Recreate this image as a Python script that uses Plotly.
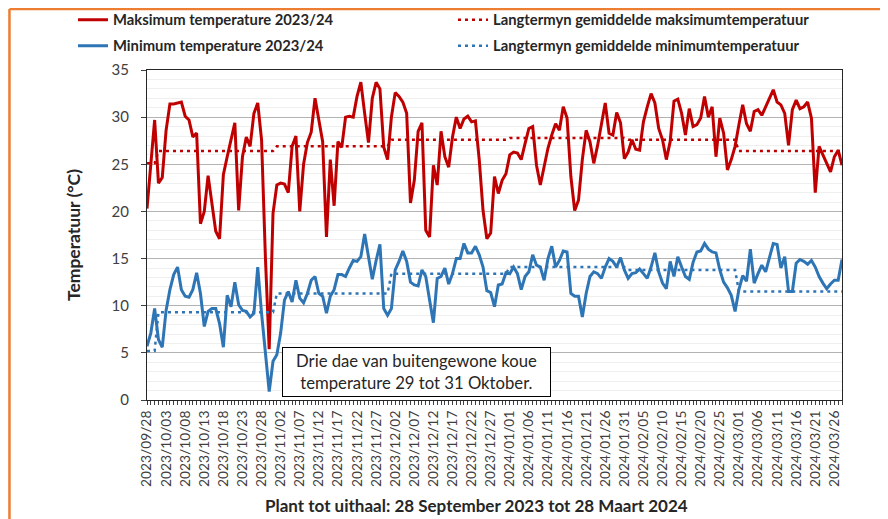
import pandas as pd
import plotly.graph_objects as go

# daily dates, 28 Sep 2023 - 28 Mar 2024
dates = pd.date_range("2023-09-28", "2024-03-28", freq="D")

max_temp = [
    20.3, 25.5, 29.7, 23.0, 23.6, 28.6, 31.4, 31.4, 31.5, 31.6,
    30.1, 29.7, 27.9, 28.3, 18.7, 20.0, 23.8, 20.9, 17.9, 17.1,
    23.9, 25.8, 27.6, 29.4, 20.1, 25.8, 27.9, 26.9, 30.4, 31.5,
    27.6, 15.2, 5.4, 19.8, 22.8, 23.0, 22.9, 22.0, 26.9, 28.0,
    20.0, 25.0, 27.3, 28.4, 32.0, 29.9, 27.4, 17.3, 25.5, 20.6,
    27.4, 26.8, 30.0, 30.1, 30.0, 32.2, 33.7, 30.4, 27.3, 32.0,
    33.7, 33.0, 26.8, 25.5, 30.0, 32.6, 32.2, 31.6, 30.4, 20.9,
    23.3, 28.5, 29.4, 18.0, 17.3, 24.9, 22.8, 28.5, 25.8, 24.7,
    27.9, 30.0, 28.8, 29.8, 30.1, 29.5, 29.6, 25.5, 20.1, 17.1,
    17.7, 23.7, 21.9, 23.3, 24.0, 26.0, 26.3, 26.2, 25.5, 27.2,
    28.8, 29.0, 24.9, 22.8, 24.7, 26.7, 28.1, 29.3, 28.6, 31.1,
    29.9, 23.7, 20.1, 21.2, 25.5, 28.6, 27.4, 25.1, 27.0, 29.3,
    31.5, 28.3, 28.1, 30.5, 29.4, 25.6, 26.3, 27.6, 26.6, 26.5,
    29.5, 31.1, 32.5, 31.5, 28.8, 27.6, 25.5, 27.4, 31.7, 31.9,
    30.4, 28.1, 30.9, 29.0, 29.2, 29.9, 32.2, 30.0, 31.1, 25.8,
    29.9, 28.3, 24.4, 25.5, 26.9, 29.2, 31.3, 29.3, 28.5, 30.6,
    30.8, 30.2, 31.1, 32.0, 32.9, 31.6, 31.3, 30.4, 27.0, 30.8,
    31.8, 30.9, 31.1, 31.6, 29.9, 22.0, 26.9, 26.0, 25.1, 24.2,
    25.8, 26.5, 24.9,
]

min_temp = [
    5.7, 7.1, 9.7, 6.4, 5.6, 9.5, 11.7, 13.3, 14.1, 11.7,
    11.0, 10.9, 11.7, 13.5, 11.3, 7.8, 9.4, 9.7, 9.7, 8.1,
    5.6, 11.1, 9.9, 12.5, 10.1, 9.5, 9.4, 8.8, 9.2, 14.1,
    9.2, 4.6, 0.9, 4.1, 4.8, 7.1, 10.6, 11.5, 10.4, 12.7,
    10.8, 10.3, 11.3, 12.7, 13.1, 11.3, 11.0, 9.2, 11.0, 11.7,
    13.3, 13.3, 13.1, 14.0, 14.8, 14.7, 15.2, 17.6, 15.2, 12.8,
    14.8, 16.5, 9.7, 9.0, 9.7, 13.8, 14.7, 15.8, 14.7, 12.5,
    12.2, 12.1, 13.8, 13.1, 10.6, 8.2, 12.9, 13.1, 14.0, 12.3,
    13.4, 15.0, 15.0, 16.6, 15.6, 15.6, 16.3, 15.4, 14.1, 11.6,
    11.4, 9.9, 12.2, 12.3, 13.5, 13.4, 14.1, 13.4, 11.7, 13.1,
    13.6, 15.4, 14.3, 14.1, 12.7, 15.0, 16.3, 14.1, 14.8, 15.8,
    15.7, 11.3, 11.0, 11.0, 8.8, 11.3, 13.1, 13.6, 13.4, 12.9,
    14.1, 15.0, 14.7, 14.1, 15.1, 13.8, 12.9, 13.4, 13.5, 13.9,
    13.4, 12.9, 14.1, 15.6, 13.6, 12.4, 11.8, 14.7, 13.1, 15.2,
    14.1, 13.1, 12.8, 14.6, 15.7, 15.8, 16.6, 16.0, 15.7, 15.6,
    13.8, 12.5, 11.9, 11.1, 9.4, 11.7, 13.2, 12.6, 16.0, 12.4,
    13.4, 14.3, 13.6, 15.2, 16.6, 16.5, 14.0, 15.2, 11.5, 11.5,
    14.5, 14.9, 14.7, 14.4, 14.8, 14.1, 13.1, 12.4, 11.8, 12.3,
    12.7, 12.7, 14.9,
]

# long-term monthly means (Sep..Mar)
lt_months = [9, 10, 11, 12, 1, 2, 3]
lt_max = [25.1, 26.4, 26.9, 27.6, 27.8, 27.6, 26.4]
lt_min = [5.2, 9.3, 11.3, 13.4, 14.1, 13.8, 11.5]

lt_max_daily = [dict(zip(lt_months, lt_max))[d.month] for d in dates]
lt_min_daily = [dict(zip(lt_months, lt_min))[d.month] for d in dates]

RED = "#C00000"
BLUE = "#2E75B6"
FONT = "Lato"

fig = go.Figure()
fig.add_trace(go.Scatter(x=dates, y=max_temp, mode="lines", name="<b>Maksimum temperature 2023/24</b>",
                         line=dict(color=RED, width=3), legend="legend"))
fig.add_trace(go.Scatter(x=dates, y=lt_max_daily, mode="lines",
                         name="<b>Langtermyn gemiddelde maksimumtemperatuur</b>",
                         line=dict(color=RED, width=2.5, dash="3px,4px"), legend="legend"))
fig.add_trace(go.Scatter(x=dates, y=min_temp, mode="lines", name="<b>Minimum temperature 2023/24</b>",
                         line=dict(color=BLUE, width=3), legend="legend2"))
fig.add_trace(go.Scatter(x=dates, y=lt_min_daily, mode="lines",
                         name="<b>Langtermyn gemiddelde minimumtemperatuur</b>",
                         line=dict(color=BLUE, width=2.5, dash="3px,4px"), legend="legend2"))

leg = dict(orientation="h", x=-0.1065, xanchor="left", yanchor="middle",
           entrywidth=335, entrywidthmode="pixels", bgcolor="rgba(0,0,0,0)",
           font=dict(family=FONT, size=14.8, color="#262626"))

# the page body adds an 8px offset, so the figure is 8px smaller than the window
fig.update_layout(
    width=880, height=511,
    margin=dict(l=139, r=46, t=62, b=119, autoexpand=False),
    paper_bgcolor="white", plot_bgcolor="white",
    font=dict(family=FONT, color="#404040"),
    legend=dict(leg, y=1.1515),
    legend2=dict(leg, y=1.0727),
    xaxis=dict(
        type="date",
        range=["2023-09-28", "2024-03-28"],
        tick0="2023-09-28", dtick=5 * 86400000,
        tickformat="%Y/%m/%d", tickangle=-90,
        tickfont=dict(family=FONT, size=13.8, color="#404040"),
        ticks="outside", ticklen=4, tickcolor="#404040",
        minor=dict(dtick=86400000, ticks="outside", ticklen=4, tickcolor="#404040", showgrid=False),
        showgrid=False, showline=True, mirror=True, linecolor="#262626", linewidth=1.2,
        automargin=False,
    ),
    yaxis=dict(
        range=[0, 35], dtick=5,
        tickfont=dict(family=FONT, size=15, color="#404040"),
        ticks="outside", ticklen=5, tickcolor="#404040", ticklabelstandoff=9,
        showgrid=True, gridcolor="#b3b3b3", gridwidth=1,
        minor=dict(dtick=1, showgrid=True, gridcolor="#efefef", gridwidth=1),
        zeroline=False, showline=True, mirror=True, linecolor="#262626", linewidth=1.2,
        title=dict(text="<b>Temperatuur (°C)</b>",
                   font=dict(family=FONT, size=17.5, color="#262626"), standoff=26),
        automargin=False,
    ),
)

# x-axis title (sits a little left of the plot centre in the original)
fig.add_annotation(
    xref="paper", yref="paper", x=0.474, y=-0.321, xanchor="center", yanchor="middle",
    text="<b>Plant tot uithaal: 28 September 2023 tot 28 Maart 2024</b>",
    showarrow=False, font=dict(family=FONT, size=17, color="#262626"),
)

# callout box
fig.add_annotation(
    xref="paper", yref="paper", x=0.3878, y=0.0848, xanchor="center", yanchor="middle",
    text="Drie dae van buitengewone koue<br>temperature 29 tot 31 Oktober.",
    showarrow=False, align="center",
    font=dict(family=FONT, size=16.7, color="#262626"),
    bgcolor="white", bordercolor="#000000", borderwidth=1, borderpad=3,
    width=261, height=42,
)

# orange frame (top and left edges)
fig.add_shape(type="line", xref="paper", yref="paper", x0=-0.1979, x1=1.08, y0=1.1848, y1=1.1848,
              line=dict(color="#ED7D31", width=2.5))
fig.add_shape(type="line", xref="paper", yref="paper", x0=-0.1979, x1=-0.1979, y0=1.1848, y1=-0.4,
              line=dict(color="#ED7D31", width=2.5))

fig.write_html("out.html")
